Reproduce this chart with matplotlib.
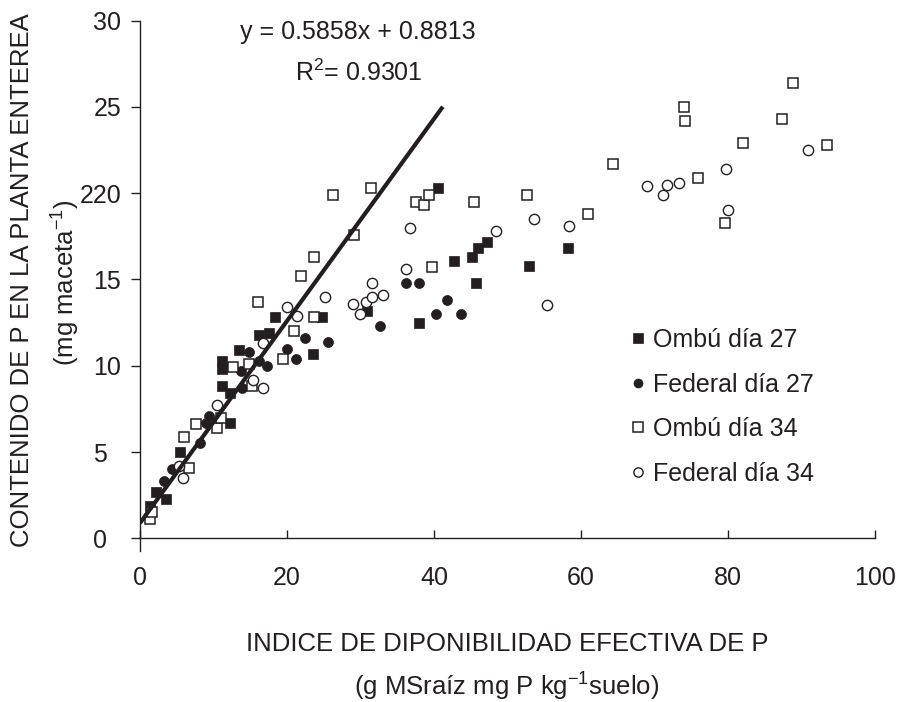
import matplotlib
matplotlib.use("Agg")
import matplotlib.pyplot as plt
import matplotlib.transforms as mtransforms
import numpy as np

plt.rcParams["font.family"] = ["Liberation Sans", "DejaVu Sans"]
plt.rcParams["mathtext.default"] = "regular"

INK = "#231f20"

# Ombú día 27 (filled squares)
OMBU27_X = [1.3, 2.2, 3.5, 5.5, 11.1, 12.3, 12.3, 11.1, 11.1, 13.5, 16.2, 17.5, 18.4,
            24.8, 23.6, 30.9, 38.0, 40.6, 42.7, 45.2, 46.0, 47.2, 45.7, 52.9, 58.2]
OMBU27_Y = [1.9, 2.7, 2.3, 5.0, 8.8, 8.4, 6.7, 9.8, 10.3, 10.9, 11.8, 11.9, 12.8,
            12.8, 10.7, 13.2, 12.5, 20.3, 16.1, 16.3, 16.8, 17.2, 14.8, 15.8, 16.8]

# Federal día 27 (filled circles)
FED27_X = [3.3, 4.4, 8.2, 9.0, 9.4, 13.9, 13.7, 14.8, 16.2, 17.3, 20.0, 21.2, 22.4,
           25.6, 32.7, 36.2, 38.0, 40.3, 41.8, 43.7]
FED27_Y = [3.3, 4.0, 5.5, 6.7, 7.1, 8.7, 9.7, 10.8, 10.3, 10.0, 11.0, 10.4, 11.6,
           11.4, 12.3, 14.8, 14.8, 13.0, 13.8, 13.0]

# Ombú día 34 (open squares)
OMBU34_X = [1.4, 1.6, 6.7, 6.0, 7.6, 10.5, 11.0, 15.3, 12.6, 14.8, 19.5, 21.0, 23.7,
            16.1, 21.9, 23.7, 29.1, 26.2, 31.4, 37.5, 38.6, 39.3, 45.4, 39.7, 52.6,
            60.9, 64.3, 74.0, 74.2, 75.9, 79.6, 82.0, 87.4, 88.9, 93.5]
OMBU34_Y = [1.1, 1.5, 4.1, 5.9, 6.6, 6.4, 7.0, 8.8, 9.9, 10.1, 10.4, 12.0, 12.8,
            13.7, 15.2, 16.3, 17.6, 19.9, 20.3, 19.5, 19.3, 19.9, 19.5, 15.7, 19.9,
            18.8, 21.7, 25.0, 24.2, 20.9, 18.3, 22.9, 24.3, 26.4, 22.8]

# Federal día 34 (open circles)
FED34_X = [5.3, 5.8, 10.5, 15.4, 16.7, 16.7, 20.0, 21.4, 25.2, 29.0, 29.9, 30.7, 31.5,
           31.5, 33.0, 36.2, 36.7, 48.4, 53.6, 58.4, 55.4, 69.0, 71.1, 71.7, 73.3,
           79.7, 80.0, 90.9]
FED34_Y = [4.2, 3.5, 7.7, 9.2, 8.7, 11.3, 13.4, 12.9, 14.0, 13.6, 13.0, 13.7, 14.0,
           14.8, 14.1, 15.6, 18.0, 17.8, 18.5, 18.1, 13.5, 20.4, 19.9, 20.5, 20.6,
           21.4, 19.0, 22.5]

# Linear fit shown on the chart
SLOPE = 0.5858
INTERCEPT = 0.8813
FIT_X_RANGE = [0.0, 41.2]

X_TICKS = [0, 20, 40, 60, 80, 100]
Y_TICKS = [0, 5, 10, 15, 20, 25, 30]
Y_TICK_LABELS = ["0", "5", "10", "15", "220", "25", "30"]


def main():
    fig = plt.figure(figsize=(9.05, 7.02), dpi=100)
    ax = fig.add_axes([140 / 905, 1 - 538.3 / 702, 735 / 905, 517.6 / 702])

    ax.plot(OMBU27_X, OMBU27_Y, ls="none", marker="s", ms=7.6, mfc=INK, mec=INK,
            mew=0.5, label="Ombú día 27", zorder=2)
    ax.plot(FED27_X, FED27_Y, ls="none", marker="o", ms=7.2, mfc=INK, mec=INK,
            mew=0.5, label="Federal día 27", zorder=2)
    ax.plot(OMBU34_X, OMBU34_Y, ls="none", marker="s", ms=7.4, mfc="white", mec=INK,
            mew=1.1, label="Ombú día 34", zorder=2)
    ax.plot(FED34_X, FED34_Y, ls="none", marker="o", ms=7.4, mfc="white", mec=INK,
            mew=1.0, label="Federal día 34", zorder=2)

    fx = np.array(FIT_X_RANGE)
    ax.plot(fx, SLOPE * fx + INTERCEPT, color=INK, lw=3.0, solid_capstyle="butt", zorder=3)

    ax.text(29.7, 29.37, f"y = {SLOPE}x + {INTERCEPT}", ha="center", va="center",
            fontsize=18, color=INK)
    ax.text(29.7, 26.97, "R$^2$= 0.9301", ha="center", va="center",
            fontsize=18, color=INK)

    ax.set_xlim(0, 100)
    ax.set_ylim(0, 30)
    for side in ("top", "right"):
        ax.spines[side].set_visible(False)
    for side in ("left", "bottom"):
        ax.spines[side].set_color(INK)
        ax.spines[side].set_linewidth(1.0)
    ax.spines["left"].set_bounds(-0.75, 30)

    ax.set_xticks(X_TICKS)
    ax.set_xticklabels([str(t) for t in X_TICKS])
    ax.set_yticks(Y_TICKS)
    ax.set_yticklabels(Y_TICK_LABELS)
    ax.tick_params(axis="x", direction="in", length=6, width=1.0, pad=20,
                   labelsize=18, colors=INK)
    ax.tick_params(axis="y", direction="out", length=6.5, width=1.0, pad=7,
                   labelsize=18, colors=INK)

    leg = ax.legend(loc="upper left", bbox_to_anchor=(628 / 905, 1 - 328 / 702),
                    bbox_transform=fig.transFigure, frameon=False, fontsize=18,
                    handlelength=0.8, handletextpad=0.2, labelspacing=0.82,
                    borderpad=0, borderaxespad=0, markerscale=0.9)
    for t in leg.get_texts():
        t.set_color(INK)

    fig.text(507 / 905, 1 - 644 / 702, "INDICE DE DIPONIBILIDAD EFECTIVA DE P",
             ha="center", va="center", fontsize=18.5, color=INK)
    fig.text(507 / 905, 1 - 687 / 702, "(g MSraíz mg P kg$^{-1}$suelo)",
             ha="center", va="center", fontsize=18.5, color=INK)
    fig.text(22 / 905, 1 - 280 / 702, "CONTENIDO DE P EN LA PLANTA ENTEREA",
             ha="center", va="center", rotation=90, fontsize=18.5, color=INK)
    fig.text(66 / 905, 1 - 283 / 702, "(mg maceta$^{-1}$)",
             ha="center", va="center", rotation=90, fontsize=18.5, color=INK)

    # single digit y labels sit one digit further left, as in the original
    fig.canvas.draw()
    shift = mtransforms.ScaledTranslation(-10 / 72, 0, fig.dpi_scale_trans)
    for lab in ax.get_yticklabels():
        if len(lab.get_text()) == 1:
            lab.set_transform(lab.get_transform() + shift)

    fig.savefig("out.png", dpi=100)


if __name__ == "__main__":
    main()
